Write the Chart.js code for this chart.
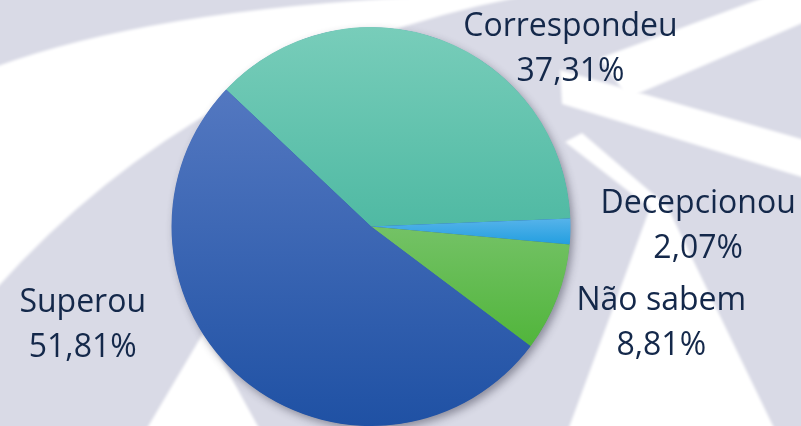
<!DOCTYPE html>
<html>
<head>
<meta charset="utf-8">
<script src="https://cdn.jsdelivr.net/npm/chart.js@4.4.0/dist/chart.umd.min.js"></script>
<style>
  html, body { margin: 0; padding: 0; background: #d9dae6; }
  #caixa { width: 801px; height: 426px; position: relative; }
</style>
</head>
<body>
<div id="caixa"><canvas id="graf_pizza"></canvas></div>
<script>
// Dados do grafico
var categorias = ['Correspondeu', 'Decepcionou', 'Não sabem', 'Superou'];
var valores = [37.31, 2.07, 8.81, 51.81];
var rotulos = ['37,31%', '2,07%', '8,81%', '51,81%'];

// Cores (gradiente vertical de cada fatia: [posicao, cor])
var cores = [
  [[0, '#78cdba'], [1, '#27a68c']],
  [[0.48, '#56b3ea'], [0.55, '#1f9ddf']],
  [[0.5, '#74c266'], [0.8, '#51b53b']],
  [[0, '#5d7fc6'], [1, '#1f51a4']]
];

// Posicao dos rotulos, em raios a partir do centro da pizza
var posRotulo = [[1.0, -0.955], [1.64, -0.07], [1.455, 0.42], [-1.445, 0.43]];

var ctx = document.getElementById('graf_pizza').getContext('2d');

// Fundo com as faixas brancas
var fundo = {
  id: 'fundo',
  beforeDraw: function (chart) {
    var c = chart.ctx;
    c.save();
    c.fillStyle = '#d9dae6';
    c.fillRect(0, 0, chart.width, chart.height);
    c.filter = 'blur(1.5px)';
    c.fillStyle = '#ffffff';
    // faixa curva no canto superior esquerdo
    c.beginPath();
    c.moveTo(-5, 67);
    c.quadraticCurveTo(150, 10, 420, -3);
    c.lineTo(520, -3);
    c.quadraticCurveTo(200, 60, -5, 290);
    c.closePath();
    c.fill();
    // area branca abaixo da pizza, lado esquerdo
    c.beginPath();
    c.moveTo(146, 430);
    c.lineTo(205, 330);
    c.lineTo(260, 430);
    c.closePath();
    c.fill();
    // triangulo a direita
    c.beginPath();
    c.moveTo(568, 430);
    c.lineTo(650, 208);
    c.lineTo(565, 142);
    c.lineTo(582, 133);
    c.lineTo(667, 206);
    c.lineTo(775, 430);
    c.closePath();
    c.fill();
    // faixas cruzadas no canto superior direito
    c.beginPath();
    c.moveTo(560, 70);
    c.lineTo(805, 140);
    c.lineTo(805, 178);
    c.lineTo(562, 104);
    c.closePath();
    c.fill();
    c.beginPath();
    c.moveTo(765, -3);
    c.lineTo(805, -3);
    c.lineTo(805, 22);
    c.lineTo(628, 98);
    c.lineTo(600, 58);
    c.closePath();
    c.fill();
    c.restore();
  },
  beforeDatasetsDraw: function (chart) {
    // sombra da pizza
    var arc = chart.getDatasetMeta(0).data[0];
    if (!arc) return;
    var c = chart.ctx;
    c.save();
    c.shadowColor = 'rgba(40, 40, 60, 0.45)';
    c.shadowBlur = 9;
    c.shadowOffsetX = 3;
    c.shadowOffsetY = 4;
    c.fillStyle = '#2a5aab';
    c.beginPath();
    c.arc(arc.x, arc.y, arc.outerRadius - 0.5, 0, Math.PI * 2);
    c.fill();
    c.restore();
  },
  afterDraw: function (chart) {
    var arc = chart.getDatasetMeta(0).data[0];
    if (!arc) return;
    var c = chart.ctx;
    var r = arc.outerRadius;
    c.save();
    c.font = '32px "Open Sans"';
    c.fillStyle = '#14284a';
    c.textAlign = 'center';
    c.textBaseline = 'alphabetic';
    for (var i = 0; i < categorias.length; i++) {
      var x = arc.x + posRotulo[i][0] * r;
      var y = arc.y + posRotulo[i][1] * r;
      c.fillText(categorias[i], x, y);
      c.fillText(rotulos[i], x, y + 45);
    }
    c.restore();
  }
};

function corFatia(context) {
  var area = context.chart.chartArea;
  var stops = cores[context.dataIndex];
  if (!area) return stops[0][1];
  var g = context.chart.ctx.createLinearGradient(0, area.top, 0, area.bottom);
  stops.forEach(function (s) { g.addColorStop(s[0], s[1]); });
  return g;
}

var graf_pizza = new Chart(ctx, {
  type: 'pie',
  data: {
    labels: categorias,
    datasets: [{
      data: valores,
      backgroundColor: corFatia,
      borderWidth: 0,
      offset: 0,
      hoverOffset: 0
    }]
  },
  options: {
    responsive: true,
    maintainAspectRatio: false,
    animation: false,
    events: [],
    rotation: -46.6,
    layout: { padding: { left: 171, right: 230, top: 27, bottom: -1 } },
    plugins: {
      legend: { display: false },
      tooltip: { enabled: false }
    }
  },
  plugins: [fundo]
});
</script>
</body>
</html>
